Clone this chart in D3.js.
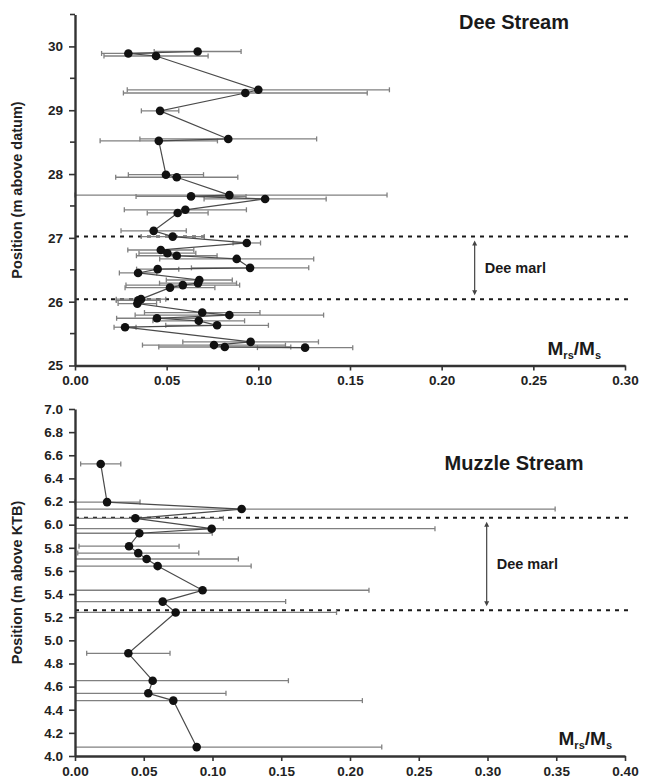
<!DOCTYPE html>
<html>
<head>
<meta charset="utf-8">
<script src="https://cdn.jsdelivr.net/npm/d3@7"></script>
<style>
  body { margin: 0; background: #fff; }
  svg { display: block; font-family: "Liberation Sans", Arial, sans-serif; }
</style>
</head>
<body>
<div id="chart"></div>
<script>
// Dee Stream: position (m above datum), Mrs/Ms and error
const deePos = [29.92, 29.89, 29.85, 29.32, 29.27, 28.99, 28.55, 28.52, 27.99, 27.95,
  27.67, 27.65, 27.61, 27.44, 27.39, 27.11, 27.02, 26.92, 26.81, 26.76,
  26.72, 26.67, 26.53, 26.51, 26.45, 26.34, 26.29, 26.26, 26.22, 26.04,
  26.02, 25.97, 25.83, 25.79, 25.74, 25.70, 25.63, 25.60, 25.37, 25.32,
  25.29, 25.28];
const deeMrs = [0.0669, 0.0291, 0.0442, 0.1000, 0.0929, 0.0464, 0.0836, 0.0457, 0.0496, 0.0555,
  0.0842, 0.0633, 0.1037, 0.0602, 0.0560, 0.0429, 0.0533, 0.0937, 0.0468, 0.0504,
  0.0555, 0.0882, 0.0955, 0.0451, 0.0344, 0.0678, 0.0671, 0.0588, 0.0518, 0.0360,
  0.0345, 0.0340, 0.0694, 0.0842, 0.0447, 0.0675, 0.0775, 0.0273, 0.0958, 0.0758,
  0.0817, 0.1255];
const deeErr = [0.0237, 0.0146, 0.0284, 0.0715, 0.0665, 0.0102, 0.0482, 0.0320, 0.0205, 0.0333,
  0.0860, 0.0300, 0.0333, 0.0333, 0.0166, 0.0178, 0.0172, 0.0075, 0.0180, 0.0155,
  0.0220, 0.0420, 0.0320, 0.0115, 0.0102, 0.0180, 0.0210, 0.0310, 0.0245, 0.0135,
  0.0120, 0.0105, 0.0315, 0.0514, 0.0220, 0.0250, 0.0280, 0.0060, 0.0370, 0.0390,
  0.0360, 0.0260];
const deeMarl = [26.04, 27.02];
const deeYTicks = [25, 26, 27, 28, 29, 30];
const deeXTicks = [0, 0.05, 0.10, 0.15, 0.20, 0.25, 0.30];

// Muzzle Stream: position (m above KTB), Mrs/Ms and error
const muzPos = [6.525, 6.195, 6.135, 6.055, 5.965, 5.926, 5.814, 5.754, 5.703, 5.642,
  5.433, 5.335, 5.241, 4.888, 4.651, 4.542, 4.479, 4.077];
const muzMrs = [0.0187, 0.0233, 0.1212, 0.0439, 0.0994, 0.0468, 0.0393, 0.0460, 0.0521, 0.0601,
  0.0928, 0.0638, 0.0732, 0.0388, 0.0565, 0.0533, 0.0715, 0.0885];
const muzErr = [0.0146, 0.0240, 0.2280, 0.0640, 0.1624, 0.0530, 0.0364, 0.0440, 0.0667, 0.0680,
  0.1210, 0.0894, 0.1170, 0.0303, 0.0987, 0.0565, 0.1375, 0.1346];
const muzMarl = [5.26, 6.06];
const muzYTicks = [4.0, 4.2, 4.4, 4.6, 4.8, 5.0, 5.2, 5.4, 5.6, 5.8, 6.0, 6.2, 6.4, 6.6, 6.8, 7.0];
const muzXTicks = [0, 0.05, 0.10, 0.15, 0.20, 0.25, 0.30, 0.35, 0.40];

const W = 654, H = 781;
const svg = d3.select('#chart').append('svg').attr('width', W).attr('height', H);

function drawPanel(p) {
  const x = d3.scaleLinear().domain([0, p.xMax]).range([75, 625]);
  const y = d3.scaleLinear().domain(p.yDomain).range([p.bottom, p.top]);
  const g = svg.append('g');

  const pts = p.pos.map((d, i) => ({ pos: d, v: p.mrs[i], e: p.err[i] }));

  // dashed marl boundaries
  g.selectAll('line.marl').data(p.marl).join('line')
    .attr('x1', x(0)).attr('x2', x(p.xMax) + 4)
    .attr('y1', d => y(d)).attr('y2', d => y(d))
    .attr('stroke', '#1a1a1a').attr('stroke-width', 2).attr('stroke-dasharray', '4,5');

  // error bars
  const eb = g.append('g').attr('stroke', '#808080').attr('stroke-width', 1.3);
  eb.selectAll('line.bar').data(pts).join('line')
    .attr('x1', d => x(Math.max(d.v - d.e, 0)))
    .attr('x2', d => x(d.v + d.e))
    .attr('y1', d => y(d.pos)).attr('y2', d => y(d.pos));
  eb.selectAll('line.capr').data(pts).join('line')
    .attr('x1', d => x(d.v + d.e)).attr('x2', d => x(d.v + d.e))
    .attr('y1', d => y(d.pos) - 2.5).attr('y2', d => y(d.pos) + 2.5);
  eb.selectAll('line.capl').data(pts.filter(d => d.v - d.e > -0.003)).join('line')
    .attr('x1', d => x(Math.max(d.v - d.e, 0))).attr('x2', d => x(Math.max(d.v - d.e, 0)))
    .attr('y1', d => y(d.pos) - 2.5).attr('y2', d => y(d.pos) + 2.5);

  // connecting line
  g.append('path').datum(pts)
    .attr('fill', 'none').attr('stroke', '#4a4a4a').attr('stroke-width', 1.2)
    .attr('d', d3.line().x(d => x(d.v)).y(d => y(d.pos)));

  g.selectAll('circle').data(pts).join('circle')
    .attr('cx', d => x(d.v)).attr('cy', d => y(d.pos)).attr('r', 4.3)
    .attr('fill', '#111');

  // axes
  const xAxis = d3.axisBottom(x).tickValues(p.xTicks).tickFormat(d3.format('.2f'))
    .tickSize(5).tickSizeOuter(0).tickPadding(5);
  const gx = g.append('g').attr('transform', `translate(0,${p.bottom})`).call(xAxis);
  const yAxis = d3.axisLeft(y).tickValues(p.yTicks).tickFormat(p.yFmt)
    .tickSize(6).tickSizeOuter(0).tickPadding(6);
  const gy = g.append('g').attr('transform', 'translate(75,0)').call(yAxis);
  if (p.yMinor) {
    gy.selectAll('line.minor').data(p.yMinor).join('line')
      .attr('x1', -5).attr('x2', 0).attr('y1', d => y(d)).attr('y2', d => y(d))
      .attr('stroke', '#333').attr('stroke-width', 1.6);
  }
  [gx, gy].forEach(a => {
    a.select('.domain').attr('stroke', '#333').attr('stroke-width', 2.4);
    a.selectAll('.tick line').attr('stroke', '#333').attr('stroke-width', 1.6);
    a.selectAll('.tick text').attr('fill', '#222').attr('font-size', 13.5).attr('font-weight', 'bold');
  });

  // titles
  g.append('text').attr('x', 514).attr('y', p.titleY).attr('text-anchor', 'middle')
    .attr('font-size', 20).attr('font-weight', 'bold').attr('fill', '#1a1a1a').text(p.title);

  g.append('text')
    .attr('transform', `translate(22,${(p.top + p.bottom) / 2}) rotate(-90)`)
    .attr('text-anchor', 'middle').attr('font-size', 14.5).attr('font-weight', 'bold')
    .attr('fill', '#222').text(p.yLabel);

  const xl = g.append('text').attr('x', p.xLabelX).attr('y', p.bottom - 11)
    .attr('text-anchor', 'end').attr('font-size', 19).attr('font-weight', 'bold').attr('fill', '#1a1a1a');
  xl.append('tspan').text('M');
  xl.append('tspan').attr('font-size', 11).attr('dy', 4).text('rs');
  xl.append('tspan').attr('dy', -4).text('/M');
  xl.append('tspan').attr('font-size', 11).attr('dy', 4).text('s');

  // Dee marl arrow
  const ax = x(p.arrowX);
  const y1 = y(p.marl[1]) + 4, y2 = y(p.marl[0]) - 4;
  g.append('line').attr('x1', ax).attr('x2', ax).attr('y1', y1 + 3).attr('y2', y2 - 3)
    .attr('stroke', '#444').attr('stroke-width', 1.2);
  g.append('path').attr('d', `M${ax},${y1} l-2.5,5 h5 z M${ax},${y2} l-2.5,-5 h5 z`).attr('fill', '#444');
  g.append('text').attr('x', ax + 10).attr('y', y((p.marl[0] + p.marl[1]) / 2) + 5)
    .attr('font-size', 14.5).attr('font-weight', 'bold').attr('fill', '#1a1a1a').text('Dee marl');
}

drawPanel({
  pos: deePos, mrs: deeMrs, err: deeErr, marl: deeMarl,
  xMax: 0.30, xTicks: deeXTicks, yDomain: [25, 30.5], yTicks: deeYTicks,
  yMinor: [25.5, 26.5, 27.5, 28.5, 29.5, 30.5], yFmt: d3.format('d'),
  top: 14.5, bottom: 365.5, title: 'Dee Stream', titleY: 29,
  yLabel: 'Position (m above datum)', xLabelX: 601, arrowX: 0.218
});

drawPanel({
  pos: muzPos, mrs: muzMrs, err: muzErr, marl: muzMarl,
  xMax: 0.40, xTicks: muzXTicks, yDomain: [4, 7], yTicks: muzYTicks,
  yMinor: null, yFmt: d3.format('.1f'),
  top: 409, bottom: 756, title: 'Muzzle Stream', titleY: 470,
  yLabel: 'Position (m above KTB)', xLabelX: 612, arrowX: 0.2994
});
</script>
</body>
</html>
